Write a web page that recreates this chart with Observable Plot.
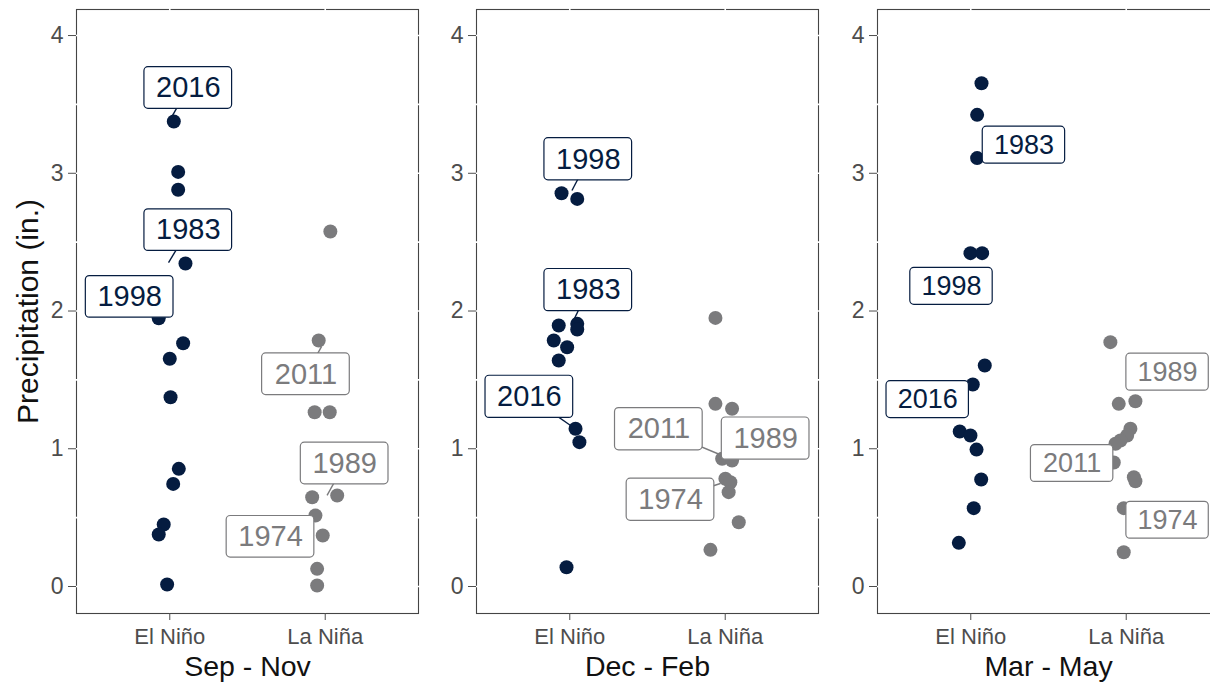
<!DOCTYPE html>
<html><head><meta charset="utf-8">
<script src="https://cdn.jsdelivr.net/npm/d3@7"></script>
<script src="https://cdn.jsdelivr.net/npm/@observablehq/plot@0.6"></script>
<style>
body{margin:0;background:#fff;overflow:hidden}
#chart{display:flex;width:1210px;height:685px;overflow:hidden}
#chart > svg{flex:none}
</style></head><body><div id="chart"></div>
<script>
// ---------- data ----------
const seasons = ["Sep - Nov", "Dec - Feb", "Mar - May"];
const phases = ["El Niño", "La Niña"];
const yTicks = [0, 1, 2, 3, 4];
const yTitle = "Precipitation (in.)";

// jittered category position (1 = El Niño, 2 = La Niña) and precipitation (in.)
const sonElNinoPos    = [1.026, 1.054, 1.054, 1.101, 0.929, 1.086, 1.000, 1.005, 1.058, 1.022, 0.961, 0.929, 0.983];
const sonElNinoPrecip = [3.376, 3.010, 2.880, 2.345, 1.948, 1.766, 1.653, 1.374, 0.854, 0.745, 0.450, 0.377, 0.015];
const sonLaNinaPos    = [2.033, 1.958, 1.932, 2.029, 2.077, 1.916, 1.937, 1.984, 1.948, 1.948];
const sonLaNinaPrecip = [2.577, 1.786, 1.265, 1.265, 0.661, 0.648, 0.515, 0.370, 0.128, 0.007];

const djfElNinoPos    = [0.947, 1.048, 0.929, 1.048, 1.048, 0.897, 0.983, 0.929, 1.037, 1.062, 0.979];
const djfElNinoPrecip = [2.855, 2.814, 1.895, 1.907, 1.866, 1.786, 1.737, 1.641, 1.145, 1.048, 0.140];
const djfLaNinaPos    = [1.937, 1.937, 2.044, 1.980, 2.044, 2.001, 2.033, 2.022, 2.087, 1.905];
const djfLaNinaPrecip = [1.950, 1.326, 1.290, 0.927, 0.915, 0.782, 0.757, 0.685, 0.467, 0.266];

const mamElNinoPos    = [1.069, 1.041, 1.041, 0.998, 1.073, 1.090, 1.013, 0.929, 0.998, 1.037, 1.067, 1.019, 0.923];
const mamElNinoPrecip = [3.654, 3.424, 3.110, 2.420, 2.420, 1.604, 1.466, 1.125, 1.096, 0.994, 0.777, 0.569, 0.317];
const mamLaNinaPos    = [1.898, 1.952, 2.059, 2.027, 2.006, 1.963, 1.931, 1.920, 2.049, 2.059, 1.984, 1.984];
const mamLaNinaPrecip = [1.774, 1.326, 1.345, 1.145, 1.096, 1.060, 1.036, 0.900, 0.793, 0.764, 0.569, 0.249];

// labelled years (repelled label position and the end of its leader line, in data units)
const labelSeason = [0, 0, 0, 0, 0, 0, 1, 1, 1, 1, 1, 1, 2, 2, 2, 2, 2, 2];
const labelYear   = ["2016","1983","1998","2011","1989","1974","1998","1983","2016","2011","1989","1974","1983","1998","2016","1989","2011","1974"];
const labelPhase  = ["El Niño","El Niño","El Niño","La Niña","La Niña","La Niña","El Niño","El Niño","El Niño","La Niña","La Niña","La Niña","El Niño","El Niño","El Niño","La Niña","La Niña","La Niña"];
const labelX  = [1.119, 1.119, 0.742, 1.876, 2.125, 1.648, 1.119, 1.119, 0.740, 1.573, 2.260, 1.648, 1.342, 0.876, 0.723, 2.266, 1.652, 2.266];
const labelY  = [3.619, 2.587, 2.103, 1.541, 0.893, 0.361, 3.102, 2.152, 1.377, 1.142, 1.074, 0.630, 3.204, 2.179, 1.357, 1.556, 0.893, 0.481];
const anchorX = [1.017, 0.992, 0.742, 1.976, 2.012, 1.956, 1.014, 1.024, 1.024, 1.980, 2.260, 1.969, 1.342, 0.876, 0.723, 2.266, 1.652, 2.266];
const anchorY = [3.419, 2.352, 2.103, 1.742, 0.661, 0.537, 2.875, 1.931, 1.154, 0.951, 1.074, 0.748, 3.204, 2.179, 1.357, 1.556, 0.893, 0.481];

// ---------- build tables ----------
const seriesBySeason = [
  [[sonElNinoPos, sonElNinoPrecip], [sonLaNinaPos, sonLaNinaPrecip]],
  [[djfElNinoPos, djfElNinoPrecip], [djfLaNinaPos, djfLaNinaPrecip]],
  [[mamElNinoPos, mamElNinoPrecip], [mamLaNinaPos, mamLaNinaPrecip]]
];
function pointsFor(s) {
  const out = [];
  seriesBySeason[s].forEach(([pos, val], k) => {
    pos.forEach((p, i) => out.push({pos: p, precip: val[i], phase: phases[k]}));
  });
  return out;
}
const labels = labelYear.map((y, i) => ({
  season: labelSeason[i], year: y, phase: labelPhase[i],
  x: labelX[i], y: labelY[i], ax: anchorX[i], ay: anchorY[i]
}));

// ---------- styles ----------
const navy = "#051c40";
const grey = "#7b7b7d";
const font = "'Liberation Sans', Arial, Helvetica, sans-serif";

const layout = [
  {width: 420, marginLeft: 76, marginRight: 2, fs: 29, hw: 0.282, hh: 0.151},
  {width: 400, marginLeft: 56, marginRight: 2, fs: 29, hw: 0.282, hh: 0.153},
  {width: 401, marginLeft: 57, marginRight: 2, fs: 27, hw: 0.265, hh: 0.134}
];

const chart = document.getElementById("chart");
seasons.forEach((season, s) => {
  const L = layout[s];
  const pts = pointsFor(s);
  const labs = labels.filter(d => d.season === s);
  const marks = [
    Plot.frame({stroke: "#444", strokeWidth: 1.1}),
    Plot.ruleY(d3.range(0, 4.01, 0.5), {stroke: "white", strokeWidth: 1.6, insetLeft: -2, insetRight: -2}),
    Plot.ruleX([1, 2], {stroke: "white", strokeWidth: 1.6, insetTop: -2}),
    Plot.axisY({ticks: yTicks, tickFormat: d3.format("d"), tickSize: 8, tickPadding: 5, fontSize: 23, color: "#4d4d4d", label: null}),
    Plot.axisX({ticks: [1, 2], tickFormat: d => phases[d - 1], tickSize: 7, tickPadding: 8, fontSize: 22, color: "#4d4d4d", label: null}),
    Plot.text([season], {frameAnchor: "bottom", lineAnchor: "middle", textAnchor: "middle", dy: 53, text: d => d, fontSize: 28.5, fill: "#111"}),
    Plot.link(labs, {x1: "x", y1: "y", x2: "ax", y2: "ay", stroke: "phase", strokeWidth: 1.4}),
    Plot.dot(pts, {x: "pos", y: "precip", fill: "phase", r: 7}),
    Plot.rect(labs, {x1: d => d.x - L.hw, x2: d => d.x + L.hw, y1: d => d.y - L.hh, y2: d => d.y + L.hh,
                     fill: "white", stroke: "phase", strokeWidth: 1.2, rx: 4}),
    Plot.text(labs, {x: "x", y: "y", text: "year", fill: "phase", fontSize: L.fs})
  ];
  if (s === 0) {
    marks.push(Plot.text([yTitle], {frameAnchor: "left", textAnchor: "middle", lineAnchor: "middle", dx: -48, rotate: -90, text: d => d, fontSize: 30, fill: "#111"}));
  }
  const svg = Plot.plot({
    width: L.width,
    height: 685,
    marginTop: 9,
    marginBottom: 72,
    marginLeft: L.marginLeft,
    marginRight: L.marginRight,
    style: {fontFamily: font, background: "white", overflow: "visible"},
    x: {domain: [0.4, 2.6]},
    y: {domain: [-0.196, 4.189]},
    color: {domain: phases, range: [navy, grey]},
    marks
  });
  chart.appendChild(svg);
});
</script>
</body></html>
